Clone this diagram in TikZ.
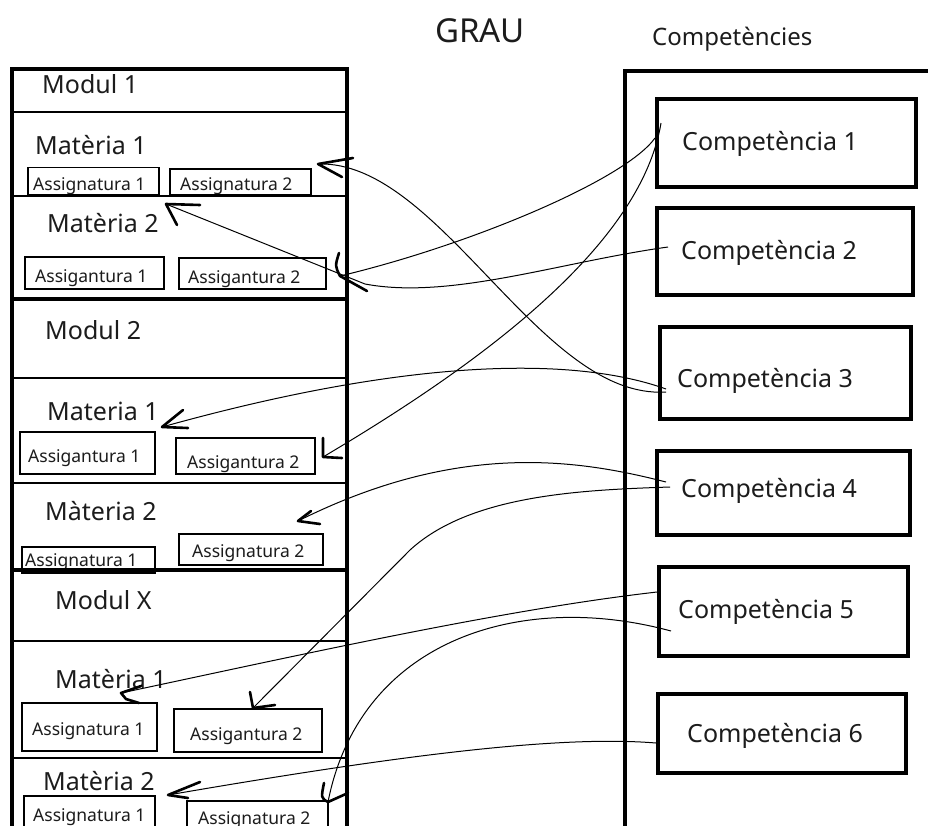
\documentclass[tikz,border=0pt]{standalone}
\usepackage{fontspec}
\setmainfont{Noto Sans}
\usetikzlibrary{calc}
\definecolor{ink}{HTML}{1C1C1C}
\begin{document}
\begin{tikzpicture}[x=1pt,y=-1pt,
  frame/.style={line width=4pt, line join=miter},
  rule/.style={line width=1.5pt},
  title/.style={font=\fontsize{33}{38}\selectfont, text=ink, inner sep=0pt, anchor=base west},
  big/.style={font=\fontsize{25}{30}\selectfont, text=ink, inner sep=0pt, anchor=base west},
  small/.style={font=\fontsize{17.5}{21}\selectfont, text=ink, inner sep=0pt, anchor=base west},
  subbox/.style={draw, line width=1.5pt, inner sep=0pt},
  compbox/.style={draw, line width=4pt, inner sep=0pt},
  link/.style={line width=1pt},
  tiphand/.style={line width=2.6pt, line cap=round, line join=round},
]
\useasboundingbox (0,0) rectangle (928,825);
\clip (0,0) rectangle (928,825);
\fill[white] (0,0) rectangle (928,825);

% ---------- headings ----------
\node[title] (grau) at (435,42) {GRAU};
\node[big, font=\fontsize{24}{29}\selectfont] (comps) at (652,45) {Competències};

% ---------- degree column ----------
\draw[frame] (11.5,830) -- (11.5,69) -- (347,69) -- (347,830);
\draw[frame] (11.5,298.5) -- (347,298.5);
\foreach \yy in {112,196,378,483,641,758}
  \draw[rule] (11.5,\yy) -- (347,\yy);

% module 1
\node[big] (mod1) at (42,93) {Modul 1};
\node[big] (m1a) at (35,154) {Matèria 1};
\node[subbox, minimum width=131, minimum height=27] (b1a1) at (93.5,181) {};
\node[subbox, minimum width=141, minimum height=26] (b1a2) at (240.5,182) {};
\node[small] at (33,190) {Assignatura 1};
\node[small] at (180,190) {Assignatura 2};
\node[big] (m1b) at (47,232) {Matèria 2};
\node[subbox, minimum width=139, minimum height=32] (b1b1) at (94.5,273) {};
\node[subbox, minimum width=147, minimum height=31] (b1b2) at (252.5,273.5) {};
\node[small] at (35,282) {Assigantura 1};
\node[small] at (188,283) {Assigantura 2};

% module 2
\node[big] (mod2) at (45,339) {Modul 2};
\node[big] (m2a) at (47,420) {Materia 1};
\node[subbox, minimum width=135, minimum height=42] (b2a1) at (87.5,453) {};
\node[subbox, minimum width=139, minimum height=36] (b2a2) at (245.5,456) {};
\node[small] at (28,462) {Assigantura 1};
\node[small] at (187,468) {Assigantura 2};
\node[big] (m2b) at (45,520) {Màteria 2};
\node[subbox, minimum width=133, minimum height=26] (b2b1) at (88.5,560) {};
\node[subbox, minimum width=144, minimum height=31] (b2b2) at (251,549.5) {};
\node[small] at (25,566) {Assignatura 1};
\node[small] at (192,557) {Assignatura 2};
\draw[frame] (11.5,569.5) -- (347,569.5);

% module X
\node[big] (modx) at (55,609) {Modul X};
\node[big] (mxa) at (55,688) {Matèria 1};
\node[subbox, minimum width=135, minimum height=48] (bxa1) at (89.5,727) {};
\node[subbox, minimum width=148, minimum height=43] (bxa2) at (248,730.5) {};
\node[small] at (32,735) {Assignatura 1};
\node[small] at (190,740) {Assigantura 2};
\node[big] (mxb) at (43,790) {Matèria 2};
\node[subbox, minimum width=131, minimum height=40] (bxb1) at (89.5,816) {};
\node[subbox, minimum width=141, minimum height=40] (bxb2) at (257.5,821) {};
\node[small] at (33,821) {Assignatura 1};
\node[small] at (198,824) {Assignatura 2};

% ---------- competences column ----------
\draw[frame] (625,830) -- (625,70.5) -- (930,70.5);
\node[compbox, minimum width=259, minimum height=88] (c1) at (786.5,143) {};
\node[compbox, minimum width=256, minimum height=87] (c2) at (785,251.5) {};
\node[compbox, minimum width=251, minimum height=92] (c3) at (785.5,373) {};
\node[compbox, minimum width=253, minimum height=84] (c4) at (783.5,493) {};
\node[compbox, minimum width=249, minimum height=89] (c5) at (783.5,611.5) {};
\node[compbox, minimum width=248, minimum height=79] (c6) at (782,733.5) {};
\node[big] at (682,150) {Competència 1};
\node[big] at (681,259) {Competència 2};
\node[big] at (677,387) {Competència 3};
\node[big] at (681,497) {Competència 4};
\node[big] at (678,618) {Competència 5};
\node[big] at (687,742) {Competència 6};

% ---------- link ends ----------
\coordinate (s1) at ($(c3.west)+(8,19)$);
\coordinate (s2) at ($(c3.west)+(8,16)$);
\coordinate (s3) at ($(c1.west)+(0,-5)$);
\coordinate (s4) at ($(c2.west)+(13,-4.5)$);
\coordinate (s5) at ($(c1.west)+(6,-20)$);
\coordinate (s6) at ($(c4.west)+(11,-11)$);
\coordinate (s7) at ($(c4.west)+(15,-6)$);
\coordinate (s8) at ($(c5.west)+(0,-19.5)$);
\coordinate (s9) at ($(c5.west)+(14,19.5)$);
\coordinate (s10) at ($(c6.west)+(0,9.5)$);

\coordinate (t1) at (318,164);   % module 1, matèria 1
\coordinate (t2) at (166,204);   % module 1, matèria 2
\coordinate (t3) at (340,276);   % module 1, assigantura 2
\coordinate (t4) at (162,427);   % module 2, materia 1
\coordinate (t5) at (323,457);   % module 2, assigantura 2
\coordinate (t6) at (298,521);   % module 2, màteria 2
\coordinate (t7) at (253,708);   % module X, assigantura 2
\coordinate (t8) at (121,693);   % module X, matèria 1
\coordinate (t9) at (328,802);   % module X, assignatura 2
\coordinate (t10) at (168,795);  % module X, matèria 2
\coordinate (k4) at (365,284);
\coordinate (k7) at (410,550);

% ---------- links ----------
\draw[link] (s1) .. controls (540,400) and (440,160) .. (t1);
\draw[link] (s2) .. controls (580,358) and (420,355) .. (t4);
\draw[link] (s3) .. controls (625,180) and (470,245) .. (t3);
\draw[link] (s4) .. controls (560,262) and (450,300) .. (k4) -- (t2);
\draw[link] (s5) .. controls (640,250) and (470,370) .. (t5);
\draw[link] (s6) .. controls (580,460) and (460,440) .. (t6);
\draw[link] (s7) .. controls (580,490) and (470,495) .. (k7) -- (t7);
\draw[link] (s8) .. controls (500,610) and (300,655) .. (t8);
\draw[link] (s9) .. controls (520,590) and (360,640) .. (t9);
\draw[link] (s10) .. controls (560,735) and (400,755) .. (t10);

% ---------- hand-drawn heads ----------
\draw[tiphand] ($(t1)+(35,-6)$) -- (t1) -- ($(t1)+(24,13)$);
\draw[tiphand] ($(t2)+(34,1)$) -- (t2) -- ($(t2)+(11,21)$);
\draw[tiphand] ($(t3)+(-1,-23)$) .. controls ($(t3)+(-5,-10)$) .. (t3) -- ($(t3)+(27,15)$);
\draw[tiphand] ($(t4)+(21,-17)$) -- (t4) -- ($(t4)+(26,1)$);
\draw[tiphand] ($(t5)+(0,-19)$) -- (t5) -- ($(t5)+(19,1)$);
\draw[tiphand] ($(t6)+(13,-10)$) -- (t6) -- ($(t6)+(22,3)$);
\draw[tiphand] ($(t7)+(-3,-16)$) -- (t7) -- ($(t7)+(22,-3)$);
\draw[tiphand] ($(t8)+(20,-7)$) -- (t8) -- ($(t8)+(5,6)$) -- ($(t8)+(18,10)$);
\draw[tiphand] ($(t9)+(-4,-19)$) .. controls ($(t9)+(-7,-4)$) .. (t9) -- ($(t9)+(20,-9)$);
\draw[tiphand] ($(t10)+(32,-13)$) -- (t10) -- ($(t10)+(20,3)$);
\end{tikzpicture}
\end{document}
